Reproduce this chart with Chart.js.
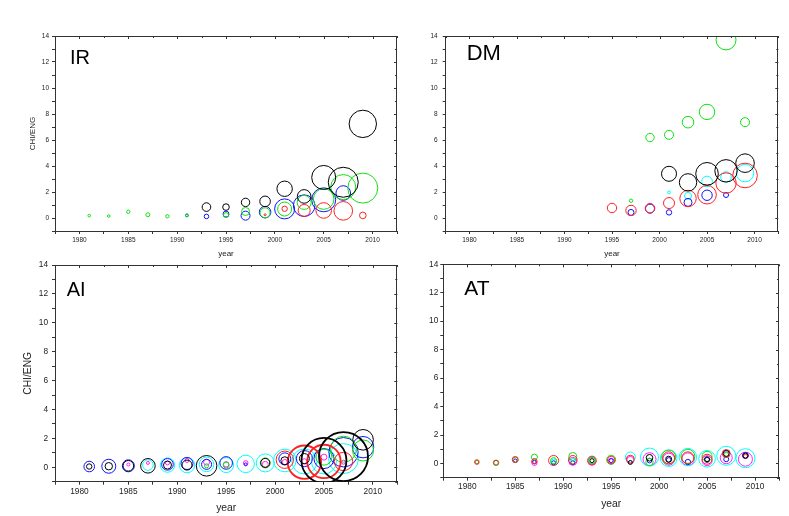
<!DOCTYPE html>
<html>
<head>
<meta charset="utf-8">
<script src="https://cdn.jsdelivr.net/npm/chart.js@4.4.1/dist/chart.umd.min.js"></script>
<style>
    body { margin: 0; background: #fff; }
    canvas { position: absolute; }
</style>
</head>
<body>
<canvas id="c-ir" width="400" height="260" style="left:0;top:0"></canvas>
<canvas id="c-dm" width="389" height="260" style="left:400px;top:0"></canvas>
<canvas id="c-ai" width="400" height="260" style="left:0;top:256px"></canvas>
<canvas id="c-at" width="389" height="260" style="left:400px;top:256px"></canvas>
<script>
// tick labels
var xTickLabels = [1980, 1985, 1990, 1995, 2000, 2005, 2010];
var yTickLabels = [0, 2, 4, 6, 8, 10, 12, 14];

// each point: [year, CHI/ENG, bubble size]
// IR
var irBlack = [[1993, 0.84, 4.3], [1995, 0.84, 3.3], [1997, 1.2, 4.2], [1999, 1.28, 5.3], [2001, 2.25, 7.7], [2003, 1.66, 6.8], [2005, 3.12, 12], [2007, 2.75, 15], [2009, 7.24, 13.7]];
var irRed = [[1999, 0.25, 1], [2001, 0.71, 2.7], [2003, 0.58, 6], [2005, 0.58, 7.8], [2007, 0.55, 9.3], [2009, 0.2, 3.3]];
var irGreen = [[1981, 0.18, 1.3], [1983, 0.15, 1.3], [1985, 0.48, 1.7], [1987, 0.25, 2], [1989, 0.13, 1.7], [1991, 0.2, 1.5], [1995, 0.22, 2.5], [1997, 0.5, 4], [1999, 0.4, 5], [2001, 0.69, 7], [2003, 1.2, 7], [2005, 1.46, 10.3], [2007, 2.38, 12.5], [2009, 2.3, 15]];
var irBlue = [[1991, 0.2, 1.3], [1993, 0.12, 2.3], [1995, 0.3, 3], [1997, 0.18, 4.5], [1999, 0.45, 5.8], [2001, 0.7, 10], [2003, 0.95, 10.8], [2005, 1.4, 12], [2007, 1.92, 7.3]];

// DM
var dmBlack = [[2001, 3.4, 7.5], [2003, 2.74, 8.7], [2005, 3.4, 11.3], [2007, 3.63, 11.2], [2009, 4.22, 9.3]];
var dmRed = [[1995, 0.77, 4.7], [1997, 0.58, 5.2], [1999, 0.75, 4.8], [2001, 1.15, 5.5], [2003, 1.5, 8.2], [2005, 1.79, 9.3], [2007, 2.69, 10.2], [2009, 3.27, 12.3]];
var dmGreen = [[1997, 1.33, 1.7], [1999, 6.19, 4.2], [2001, 6.4, 4.5], [2003, 7.37, 5.8], [2005, 8.16, 7.7], [2007, 13.7, 10], [2009, 7.37, 4.5]];
var dmBlue = [[1997, 0.43, 3], [1999, 0.72, 4.5], [2001, 0.43, 2.7], [2003, 1.2, 4], [2005, 1.75, 5.2], [2007, 1.77, 2.5]];
var dmCyan = [[2001, 1.97, 1.5], [2003, 1.71, 3.5], [2005, 2.81, 5.3], [2007, 3.15, 5.3], [2009, 3.45, 8.7]];

// AI
var aiBlack = [[1981, 0.05, 2.7], [1983, 0.07, 3.7], [1985, 0.1, 5.3], [1987, 0.1, 7.3], [1989, 0.15, 4], [1991, 0.15, 5], [1993, 0.1, 10.3], [1999, 0.3, 4.5], [2001, 0.45, 4], [2003, 0.6, 5], [2005, 0.47, 22.5], [2007, 0.74, 24.5], [2009, 1.9, 10.3]];
var aiRed = [[2001, 0.52, 8.7], [2003, 0.35, 16.7], [2005, 0.4, 16.7], [2007, 0.4, 9.2]];
var aiGreen = [[1993, 0.1, 2], [1995, 0.15, 3], [1999, 0.3, 5], [2005, 0.7, 8], [2007, 1.25, 13], [2009, 1.16, 10.5]];
var aiBlue = [[1981, 0.05, 5.3], [1983, 0.07, 7], [1985, 0.1, 6], [1989, 0.2, 5.8], [1991, 0.26, 6], [1993, 0.2, 5], [1995, 0.3, 6.3], [1997, 0.2, 1.5], [2001, 0.58, 6], [2003, 0.6, 8], [2005, 0.6, 10], [2007, 1.04, 14.7], [2009, 1.39, 10.7]];
var aiCyan = [[1987, 0.15, 5.3], [1989, 0.15, 7.2], [1991, 0.15, 7.7], [1993, 0.2, 7.3], [1995, 0.15, 7.5], [1997, 0.23, 8.7], [1999, 0.3, 9], [2001, 0.47, 11.3], [2003, 0.4, 12.5], [2005, 0.4, 12.5], [2007, 0.6, 15]];
var aiMagenta = [[1985, 0.19, 1.5], [1987, 0.3, 1.5], [1989, 0.3, 2], [1991, 0.47, 2], [1993, 0.35, 3], [1995, 0.2, 2.7], [1997, 0.3, 2.3], [1999, 0.2, 3], [2001, 0.35, 2.7], [2003, 0.4, 2.7], [2005, 0.7, 3], [2007, 0.35, 2]];

// AT
var atBlack = [[1993, 0.2, 2], [1997, 0.07, 2], [1999, 0.4, 3.3], [2001, 0.3, 3], [2005, 0.3, 2.5], [2007, 0.71, 3], [2009, 0.55, 2.5]];
var atRed = [[1981, 0.1, 2.3], [1983, 0.05, 2.3], [1985, 0.28, 3], [1987, 0.16, 2.7], [1989, 0.21, 5], [1991, 0.26, 4.3], [1993, 0.21, 4.3], [1995, 0.25, 3.7], [1997, 0.3, 4], [2001, 0.4, 6], [2003, 0.4, 6], [2005, 0.3, 5], [2007, 0.7, 4], [2009, 0.5, 2]];
var atGreen = [[1981, 0.1, 1.7], [1983, 0.05, 2.8], [1985, 0.25, 2.7], [1987, 0.45, 3], [1989, 0.2, 3], [1991, 0.49, 4], [1993, 0.2, 3.3], [1995, 0.26, 4.5], [1999, 0.1, 3.7], [2001, 0.45, 7], [2003, 0.5, 7], [2005, 0.5, 5], [2007, 0.6, 2.5]];
var atBlue = [[1985, 0.2, 1.7], [1987, 0.1, 1.7], [1989, 0.05, 2], [1991, 0.05, 2], [1995, 0.2, 2], [1999, 0.2, 2.3], [2001, 0.25, 2.3], [2003, 0.1, 2.7], [2005, 0.25, 2.5], [2007, 0.3, 2.5], [2009, 0.56, 3]];
var atCyan = [[1989, 0.1, 3], [1991, 0.15, 3], [1993, 0.25, 3.7], [1997, 0.45, 5], [1999, 0.45, 9], [2001, 0.37, 8.3], [2003, 0.45, 8.7], [2005, 0.33, 8.3], [2007, 0.54, 9.5], [2009, 0.37, 9.5]];
var atMagenta = [[1987, 0.05, 2.7], [1991, 0.15, 4], [1993, 0.15, 4], [1995, 0.15, 3], [1997, 0.25, 3.5], [1999, 0.3, 6.5], [2001, 0.3, 6], [2003, 0.3, 6.3], [2005, 0.2, 5], [2007, 0.4, 6], [2009, 0.3, 7]];

var BLACK = '#000000', RED = '#ff2020', GREEN = '#10e010', BLUE = '#1010ff', CYAN = '#00ffff', MAGENTA = '#ff20ff';
var AXIS = '#333333';

Chart.defaults.font.family = '"Liberation Sans", Arial, sans-serif';
Chart.defaults.color = '#222222';

// box on top / right with inward ticks, plus panel name
var framePlugin = {
    id: 'frame',
    afterDatasetsDraw: function (chart, args, opts) {
        var a = chart.chartArea;
        var ctx = chart.ctx;
        var xs = chart.scales.x, ys = chart.scales.y;
        ctx.save();
        ctx.strokeStyle = AXIS;
        ctx.lineWidth = 1;
        ctx.beginPath();
        ctx.moveTo(a.left, Math.round(a.top) + 0.5);
        ctx.lineTo(a.right, Math.round(a.top) + 0.5);
        ctx.moveTo(Math.round(a.right) - 0.5, a.top);
        ctx.lineTo(Math.round(a.right) - 0.5, a.bottom);
        xs.ticks.forEach(function (t) {
            var px = Math.round(xs.getPixelForValue(t.value)) + 0.5;
            ctx.moveTo(px, a.top);
            ctx.lineTo(px, a.top + (t.value % 5 === 0 ? 3 : 2));
        });
        ys.ticks.forEach(function (t) {
            var py = Math.round(ys.getPixelForValue(t.value)) + 0.5;
            ctx.moveTo(a.right, py);
            ctx.lineTo(a.right - (t.value % 2 === 0 ? 3 : 2), py);
        });
        ctx.stroke();
        ctx.fillStyle = '#000';
        ctx.font = opts.size + 'px "Liberation Sans", Arial, sans-serif';
        ctx.textBaseline = 'alphabetic';
        ctx.fillText(opts.name, a.left + opts.dx, a.top + opts.dy);
        ctx.restore();
    }
};

function bubbles(series) {
    return series.map(function (s) {
        return {
            data: s[0].map(function (p) { return { x: p[0], y: p[1], r: p[2] }; }),
            borderColor: s[1],
            backgroundColor: 'rgba(0,0,0,0)',
            // the biggest rings are drawn a little heavier
            borderWidth: function (c) { return c.raw && c.raw.r > 16 ? 1.8 : 1; },
            clip: 0
        };
    });
}

function makePanel(id, series, p) {
    var config = {
        type: 'bubble',
        data: { datasets: bubbles(series) },
        plugins: [framePlugin],
        options: {
            responsive: false,
            animation: false,
            events: [],
            layout: { autoPadding: false, padding: { left: 0, top: p.top, right: p.right, bottom: 0 } },
            plugins: {
                legend: { display: false },
                tooltip: { enabled: false },
                frame: { name: p.name, dx: p.nameX, dy: p.nameY, size: p.nameSize }
            },
            scales: {
                x: {
                    type: 'linear',
                    min: 1977.5,
                    max: 2012.5,
                    afterFit: function (s) { s.height = p.xh; },
                    ticks: {
                        stepSize: 2.5,
                        autoSkip: false,
                        maxRotation: 0,
                        padding: p.xPad,
                        font: { size: p.tickFont },
                        callback: function (v) { return xTickLabels.indexOf(v) >= 0 ? String(v) : ''; }
                    },
                    grid: { drawOnChartArea: false, color: AXIS, tickLength: 3 },
                    border: { color: AXIS },
                    title: { display: true, text: 'year', color: '#222', font: { size: p.titleFont }, padding: { top: 0, bottom: p.xTitlePad } }
                },
                y: {
                    type: 'linear',
                    min: -1,
                    max: 14,
                    afterFit: function (s) { s.width = p.yw; },
                    ticks: {
                        stepSize: 1,
                        autoSkip: false,
                        padding: p.yPad,
                        font: { size: p.tickFont },
                        callback: function (v) { return yTickLabels.indexOf(v) >= 0 ? String(v) : ''; }
                    },
                    grid: { drawOnChartArea: false, color: AXIS, tickLength: 3 },
                    border: { color: AXIS },
                    title: { display: p.yTitle, text: 'CHI/ENG', color: '#222', font: { size: p.titleFont }, padding: { top: p.yTitlePad, bottom: 0 } }
                }
            }
        }
    };
    return new Chart(document.getElementById(id), config);
}

makePanel('c-ir', [[irBlack, BLACK], [irRed, RED], [irGreen, GREEN], [irBlue, BLUE]], {
    name: 'IR', nameX: 15, nameY: 28, nameSize: 20,
    top: 36, right: 3, xh: 29, yw: 55, tickFont: 6.5, titleFont: 8,
    xPad: 2, yPad: 3, xTitlePad: 1, yTitle: true, yTitlePad: 28
});
makePanel('c-dm', [[dmBlack, BLACK], [dmRed, RED], [dmGreen, GREEN], [dmBlue, BLUE], [dmCyan, CYAN]], {
    name: 'DM', nameX: 21, nameY: 24, nameSize: 22,
    top: 36, right: 10.7, xh: 29, yw: 45.7, tickFont: 6.5, titleFont: 8,
    xPad: 2, yPad: 5, xTitlePad: 1, yTitle: false, yTitlePad: 0
});
makePanel('c-ai', [[aiBlack, BLACK], [aiRed, RED], [aiGreen, GREEN], [aiBlue, BLUE], [aiCyan, CYAN], [aiMagenta, MAGENTA]], {
    name: 'AI', nameX: 11.7, nameY: 31, nameSize: 20,
    top: 9, right: 2.7, xh: 34.3, yw: 55, tickFont: 8.3, titleFont: 10.3,
    xPad: 2, yPad: 4, xTitlePad: 1.7, yTitle: true, yTitlePad: 22.3
});
makePanel('c-at', [[atBlack, BLACK], [atRed, RED], [atGreen, GREEN], [atBlue, BLUE], [atCyan, CYAN], [atMagenta, MAGENTA]], {
    name: 'AT', nameX: 21, nameY: 31, nameSize: 21,
    top: 8.3, right: 10, xh: 38.3, yw: 43.3, tickFont: 8.3, titleFont: 10.3,
    xPad: 1.5, yPad: 2, xTitlePad: 5.5, yTitle: false, yTitlePad: 0
});
</script>
</body>
</html>
